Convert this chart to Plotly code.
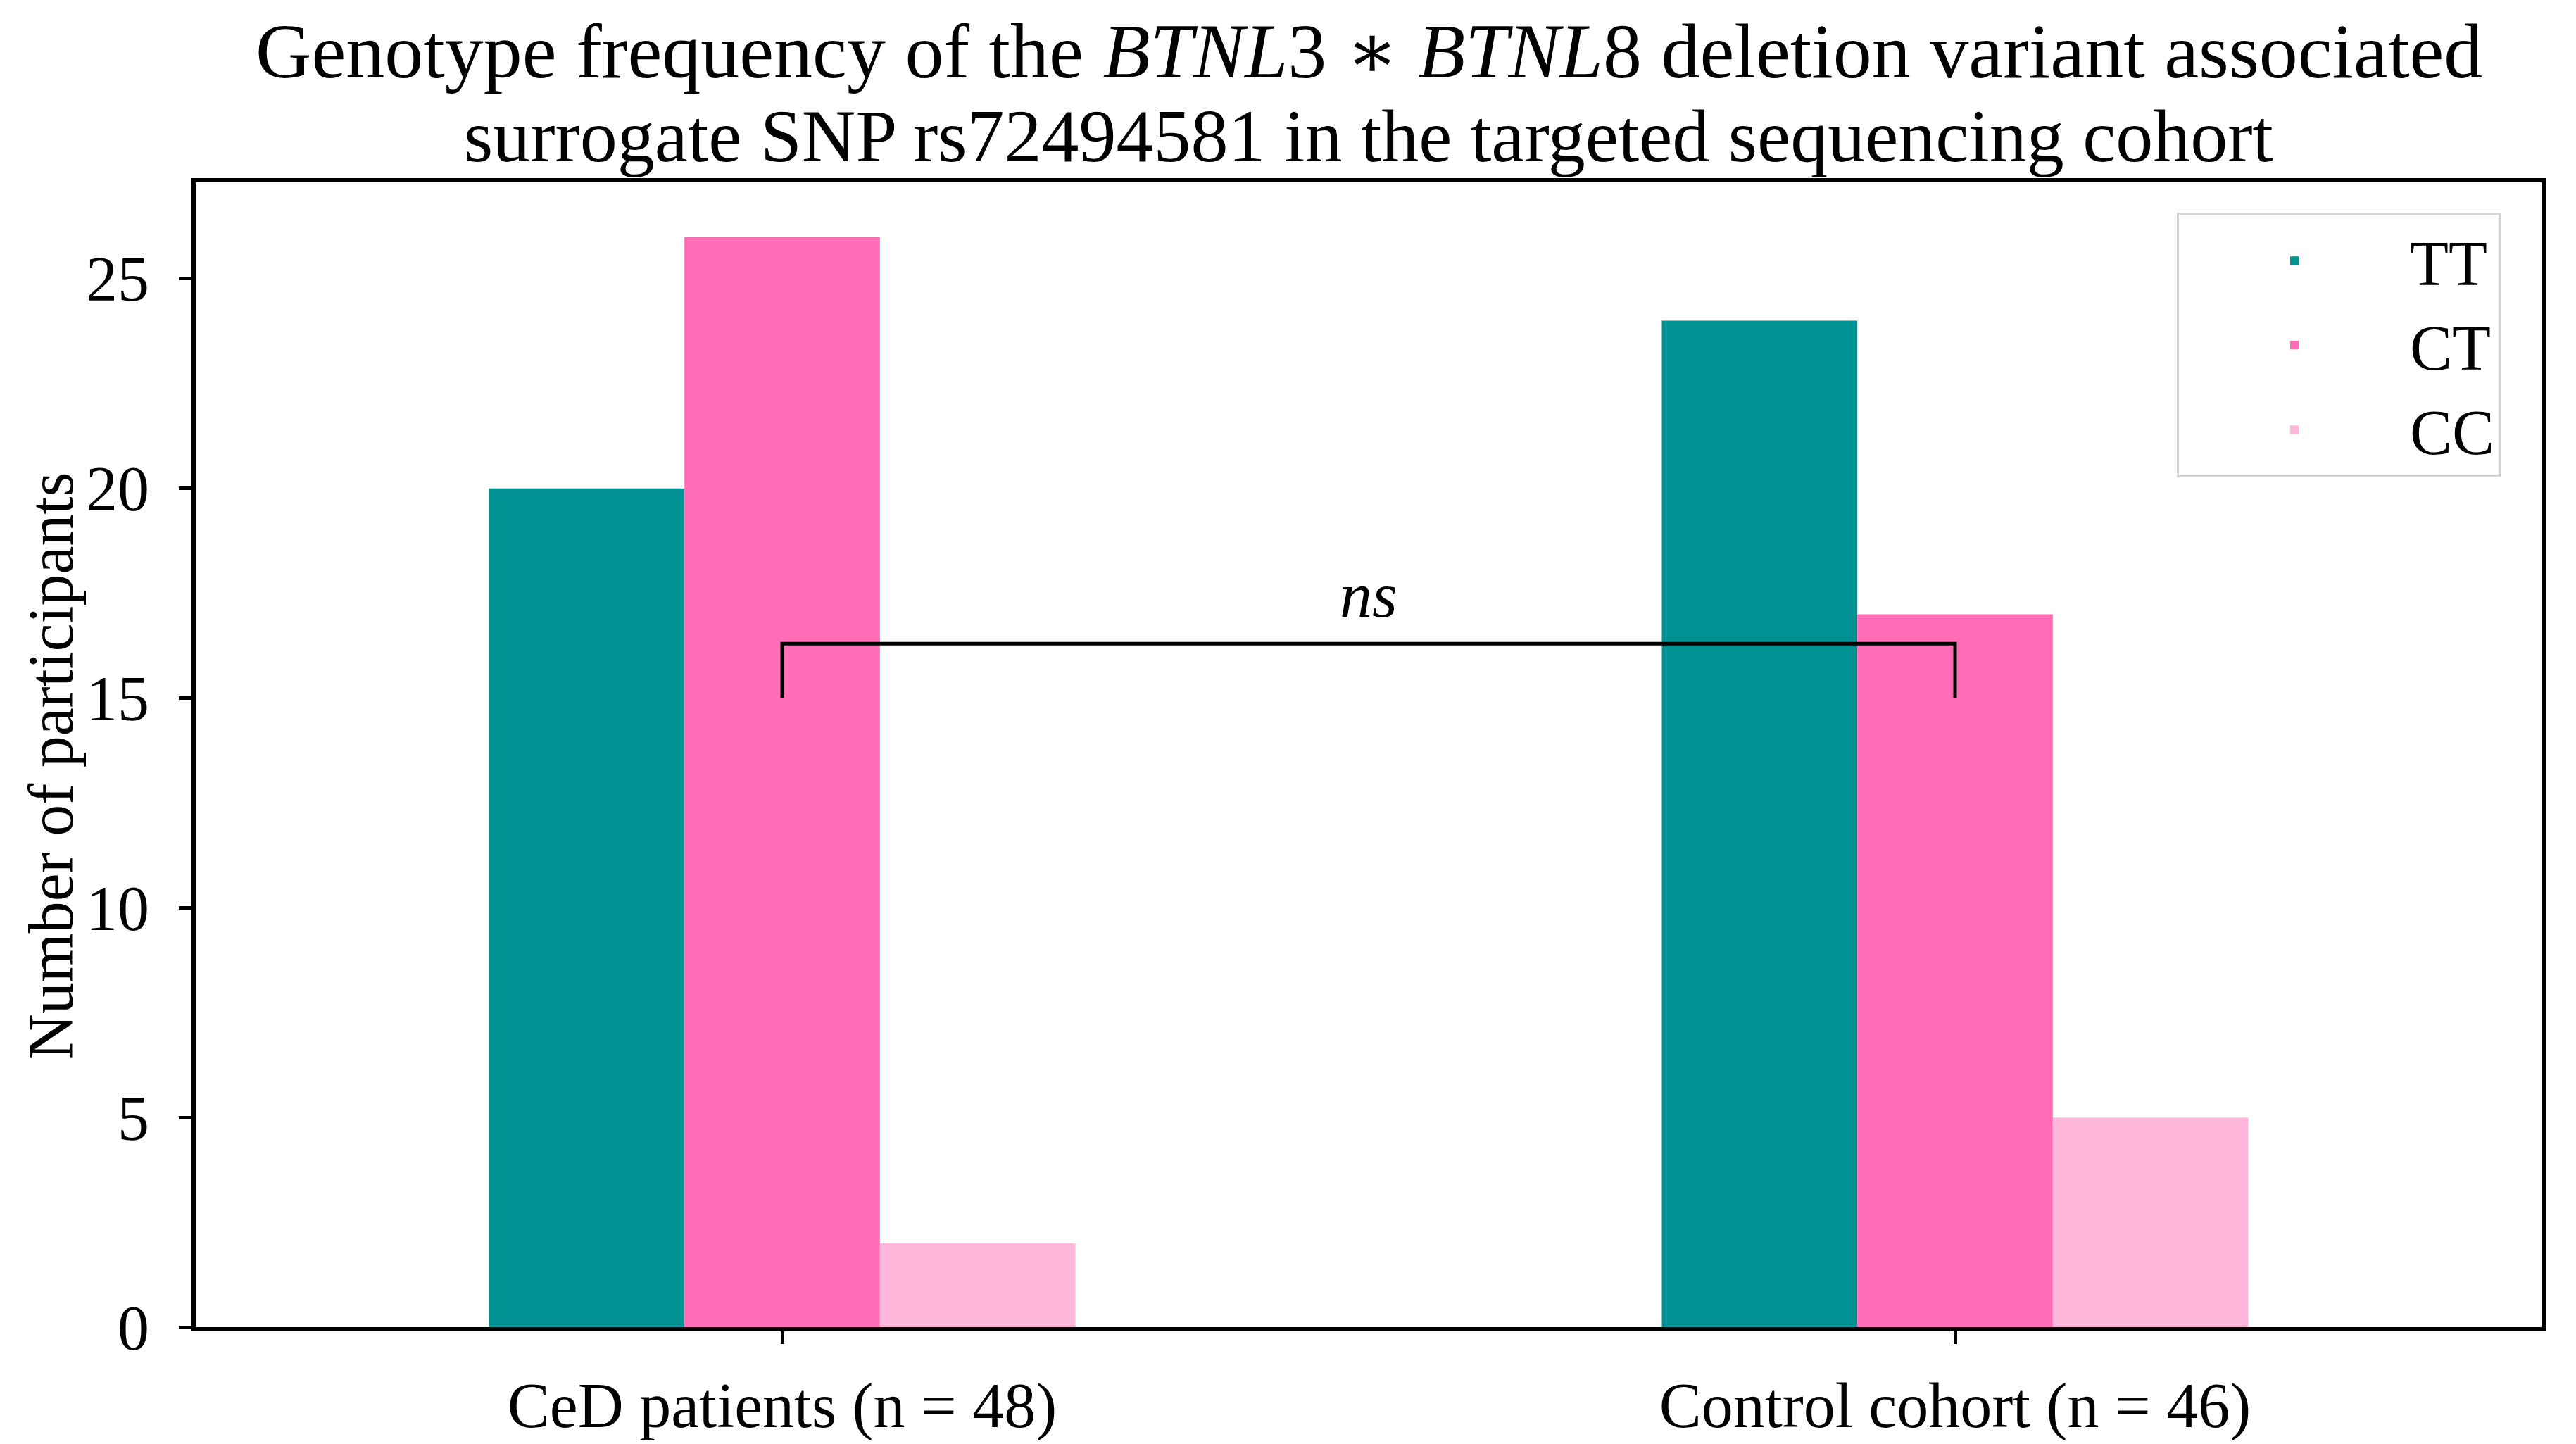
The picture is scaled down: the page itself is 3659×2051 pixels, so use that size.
import plotly.graph_objects as go

# ---- data ----
categories = ["CeD patients (n = 48)", "Control cohort (n = 46)"]
genotypes = ["TT", "CT", "CC"]
tt_counts = [20, 24]
ct_counts = [26, 17]
cc_counts = [2, 5]
y_ticks = [0, 5, 10, 15, 20, 25]

colors = {"TT": "#009292", "CT": "#FF6DB6", "CC": "#FFB6DB"}
series = {"TT": tt_counts, "CT": ct_counts, "CC": cc_counts}

FONT = "Liberation Serif"
W, H = 3659, 2051
ML, MR, MT, MB = 270, 57, 251, 146

fig = go.Figure()
for g in genotypes:
    fig.add_trace(go.Bar(
        x=categories, y=series[g], name=g,
        marker=dict(color=colors[g], line=dict(width=0)),
    ))

# significance bracket between the two groups
bracket_low, bracket_high = 15.0, 16.3
fig.add_trace(go.Scatter(
    x=[categories[0], categories[0], categories[1], categories[1]],
    y=[bracket_low, bracket_high, bracket_high, bracket_low],
    mode="lines", line=dict(color="black", width=5),
    showlegend=False, hoverinfo="skip", cliponaxis=False,
))
fig.add_annotation(
    x=0.5, xref="x", y=bracket_high, yref="y", yanchor="bottom", yshift=16,
    text="<i>ns</i>", showarrow=False,
    font=dict(family=FONT, size=92, color="black"),
)

# title as two lines (tight LaTeX-like line spacing)
ph = H - MT - MB
pw = W - ML - MR
fig.add_annotation(
    xref="paper", yref="paper", x=0.5, y=1 + (MT - 61) / ph, yanchor="middle",
    text=("Genotype frequency of the <i>BTNL</i>3 "
          + "<span style='font-family:DejaVu Serif'>∗</span>"
          + " <i>BTNL</i>8 deletion variant associated"),
    showarrow=False, font=dict(family=FONT, size=110, color="black"),
)
fig.add_annotation(
    xref="paper", yref="paper", x=0.5, y=1 + (MT - 184) / ph, yanchor="middle",
    text="surrogate SNP rs72494581 in the targeted sequencing cohort",
    showarrow=False, font=dict(family=FONT, size=106, color="black"),
)

# y-axis title
fig.add_annotation(
    xref="paper", yref="paper", x=(64 - ML) / pw, y=0.49,
    xanchor="center", yanchor="middle", textangle=-90,
    text="Number of participants", showarrow=False,
    font=dict(family=FONT, size=90, color="black"),
)

fig.update_layout(
    width=W, height=H,
    margin=dict(l=ML, r=MR, t=MT, b=MB, pad=0),
    paper_bgcolor="white", plot_bgcolor="white",
    barmode="group", bargap=0.5, bargroupgap=0,
    font=dict(family=FONT, size=90, color="black"),
    legend=dict(
        x=0.9826, xanchor="right", y=0.9734, yanchor="top",
        bgcolor="white", bordercolor="#d4d4d4", borderwidth=3,
        font=dict(family=FONT, size=90, color="black"),
        itemwidth=318, tracegroupgap=0,
    ),
    showlegend=True,
)
fig.update_xaxes(
    type="category", range=[-0.5, 1.5],
    showline=True, linecolor="black", linewidth=6, mirror=True,
    ticks="outside", ticklen=18, tickwidth=5, tickcolor="black",
    showgrid=False, zeroline=False,
    tickfont=dict(family=FONT, size=90, color="black"),
    ticklabelstandoff=10,
)
fig.update_yaxes(
    range=[0, 27.3], tickvals=y_ticks,
    showline=True, linecolor="black", linewidth=6, mirror=True,
    ticks="outside", ticklen=18, tickwidth=5, tickcolor="black",
    showgrid=False, zeroline=False,
    tickfont=dict(family=FONT, size=90, color="black"),
    ticklabelstandoff=24,
)

fig.write_html("out.html")
